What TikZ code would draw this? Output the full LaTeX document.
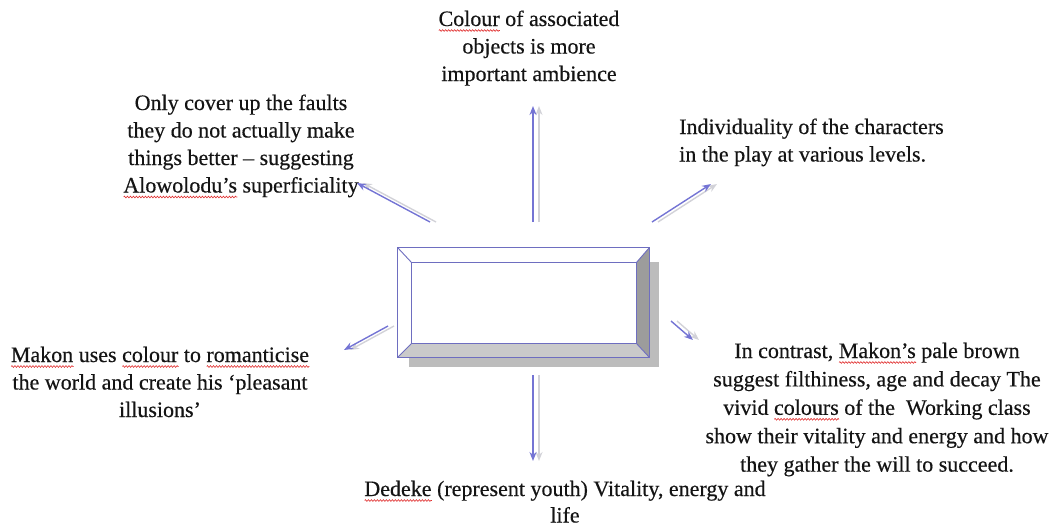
\documentclass[tikz,border=0pt]{standalone}
\usepackage{fontspec}
\setmainfont[FakeBold=0.4]{Liberation Serif}
\usetikzlibrary{arrows.meta,calc,decorations.pathmorphing}
\definecolor{arrowblue}{HTML}{7474D4}
\definecolor{arrowshadow}{HTML}{D2D2D8}
\definecolor{boxline}{HTML}{6E6EC0}
\definecolor{bevdark}{HTML}{9C9C9C}
\definecolor{bevlight}{HTML}{CACACA}
\definecolor{boxshadow}{HTML}{BCBCBC}
\definecolor{textgray}{HTML}{141414}
\definecolor{squig}{HTML}{E03030}
\newlength\wavelen
\newcommand\redwave[1]{\setbox0\hbox{#1}\setlength\wavelen{\wd0}\rlap{\tikz[baseline=0pt,x=1pt,y=1pt]\draw[squig, line width=0.6pt, decoration={zigzag, segment length=3pt, amplitude=0.9pt}, decorate] (0pt,-4.5pt) -- (\wavelen,-4.5pt);}#1}
\begin{document}
\begin{tikzpicture}[x=1pt,y=-1pt,
  lbl/.style={anchor=base, inner sep=0pt, font=\fontsize{22}{27.5}\selectfont, text=textgray},
  arr/.style={draw=arrowblue, line width=1.4pt, -{Stealth[length=9pt,width=7pt]}},
  arrsh/.style={draw=arrowshadow, line width=1.4pt, -{Stealth[length=9pt,width=7pt]}, transform canvas={xshift=6pt}}]
\useasboundingbox (0,0) rectangle (1054,528);
% central box
\node[minimum width=251pt, minimum height=109pt, inner sep=0pt] (box) at (523.5,302.5) {};
\fill[boxshadow] ($(box.north west)+(11,14)$) rectangle ($(box.south east)+(10,10)$);
\coordinate (A) at (box.north west);
\coordinate (B) at (box.north east);
\coordinate (C) at (box.south east);
\coordinate (D) at (box.south west);
\coordinate (a) at ($(A)+(14,15)$);
\coordinate (b) at ($(B)+(-13,15)$);
\coordinate (c) at ($(C)+(-13,-14)$);
\coordinate (d) at ($(D)+(14,-14)$);
\fill[white] (A) rectangle (C);
\fill[bevdark] (B) -- (C) -- (c) -- (b) -- cycle;
\fill[bevlight] (D) -- (C) -- (c) -- (d) -- cycle;
\draw[boxline, line width=1.1pt] (A) rectangle (C);
\draw[boxline, line width=1.1pt] (a) rectangle (c);
\draw[boxline, line width=0.9pt] (A) -- (a) (B) -- (b) (C) -- (c) (D) -- (d);
% texts
\node[lbl] (top) at (529,26) {\begin{tabular}[t]{@{}c@{}}\redwave{Colour} of associated\\objects is more\\important ambience\end{tabular}};
\node[lbl] (ul) at (241,110) {\begin{tabular}[t]{@{}c@{}}Only cover up the faults\\they do not actually make\\things better -- suggesting\\\redwave{Alowolodu’s} superficiality\end{tabular}};
\node[lbl, anchor=base west] (ur) at (679,134) {\begin{tabular}[t]{@{}l@{}}Individuality of the characters\\in the play at various levels.\end{tabular}};
\node[lbl] (lt) at (160,362) {\begin{tabular}[t]{@{}c@{}}\redwave{Makon} uses \redwave{colour} to \redwave{romanticise}\\the world and create his ‘pleasant\\illusions’\end{tabular}};
\node[lbl, font=\fontsize{22}{28.4}\selectfont] (rt) at (877,358) {\begin{tabular}[t]{@{}c@{}}In contrast, \redwave{Makon’s} pale brown\\suggest filthiness, age and decay The\\vivid \redwave{colours} of the\ \ Working class\\show their vitality and energy and how\\they gather the will to succeed.\end{tabular}};
\node[lbl, font=\fontsize{22}{26.5}\selectfont] (bt) at (565,496) {\begin{tabular}[t]{@{}c@{}}\redwave{Dedeke} (represent youth) Vitality, energy and\\life\end{tabular}};
% arrow end points
\coordinate (upS) at (533,222);  \coordinate (upE) at (533,106);
\coordinate (ulS) at (430,222);  \coordinate (ulE) at (357,183);
\coordinate (urS) at (652,222);  \coordinate (urE) at (711,184);
\coordinate (lS) at (388,326);   \coordinate (lE) at (344,350);
\coordinate (rS) at (671,321);   \coordinate (rE) at (693,340);
\coordinate (dS) at (533,375);   \coordinate (dE) at (533,461);
\foreach \s/\e in {upS/upE, ulS/ulE, urS/urE, lS/lE, rS/rE, dS/dE}{
  \draw[arrsh] (\s) -- (\e);
  \draw[arr] (\s) -- (\e);
}
\end{tikzpicture}
\end{document}
